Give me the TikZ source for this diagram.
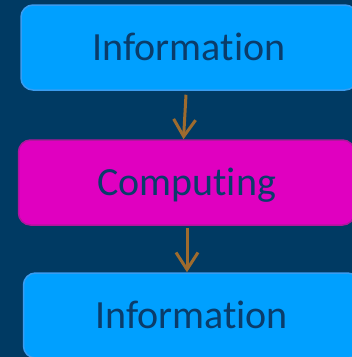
\documentclass[tikz,border=0pt]{standalone}
\usepackage{fontspec}
\setmainfont{Carlito}[Ligatures=NoCommon]
\usetikzlibrary{arrows.meta,positioning}

\definecolor{bgblue}{HTML}{003A63}
\definecolor{boxblue}{HTML}{00A0FF}
\definecolor{boxblueline}{HTML}{3A9CF0}
\definecolor{boxmag}{HTML}{E000C0}
\definecolor{boxmagline}{HTML}{B0169C}
\definecolor{txtblue}{HTML}{0A3C6A}
\definecolor{arrbrown}{HTML}{9E6B2E}

\tikzset{
  block/.style={draw=boxblueline,fill=boxblue,line width=1.5pt,rounded corners=12pt,
    minimum width=336pt,minimum height=85pt,text=txtblue,
    font=\fontsize{40pt}{44pt}\selectfont,text height=26pt,text depth=0pt},
  process/.style={block,draw=boxmagline,fill=boxmag},
  flow/.style={draw=arrbrown,line width=3pt,-{Straight Barb[length=17pt,width=22pt]}}
}

\begin{document}
\begin{tikzpicture}[x=1pt,y=-1pt]
  \fill[bgblue] (0,0) rectangle (352,357);
  \clip (0,0) rectangle (352,357);
  \node[block] (info1) at (189,47.5) {Information};
  \node[process] (comp) at (186.5,182.5) {Computing};
  \node[block] (info2) at (191.5,315.5) {Information};
  \draw[flow] ([xshift=-3pt,yshift=-4pt]info1.south) -- ([xshift=-3pt]comp.north);
  \draw[flow] ([xshift=0.5pt,yshift=-2pt]comp.south) -- ([xshift=-4.5pt]info2.north);
\end{tikzpicture}
\end{document}
